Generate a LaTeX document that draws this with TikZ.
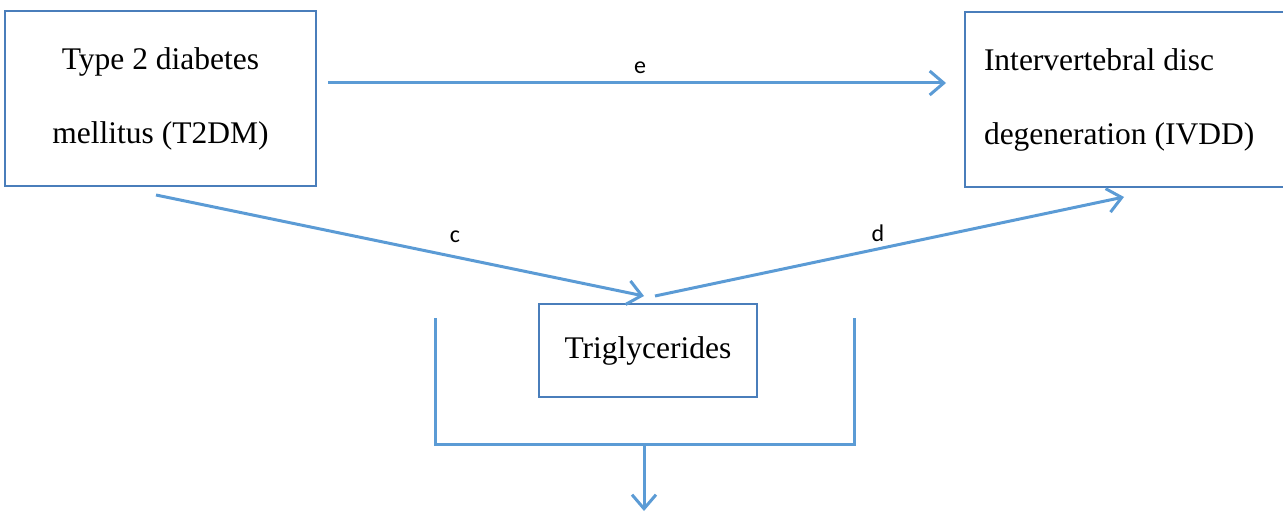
\documentclass[tikz,border=0pt]{standalone}
\usepackage{fontspec}
\setmainfont{Liberation Serif}
\newfontfamily\labelfont{Carlito}
\usetikzlibrary{arrows.meta}

\definecolor{boxblue}{RGB}{74,126,187}
\definecolor{linkblue}{RGB}{91,155,213}

\tikzset{
  box/.style={draw=boxblue, line width=2pt, rectangle, inner sep=0pt,
              font=\fontsize{31.5}{74}\selectfont},
  link/.style={draw=linkblue, line width=3pt,
               -{Straight Barb[length=14pt,width=24pt,line width=3pt]}},
  plain/.style={draw=linkblue, line width=3pt},
  pathlabel/.style={font=\labelfont\fontsize{24}{26}\selectfont, inner sep=0pt}
}

\begin{document}
\begin{tikzpicture}[x=1pt,y=-1pt]
  \useasboundingbox (0,0) rectangle (1283,513);
  \clip (0,0) rectangle (1283,513);

  % exposure, outcome and mediator boxes
  \node[box, minimum width=311pt, minimum height=175pt, align=center]
    (t2dm) at (160.5,98.5) {\raisebox{2pt}{\parbox{300pt}{\centering Type 2 diabetes\\mellitus (T2DM)}}};
  \node[box, anchor=north west, minimum height=175pt, text width=288pt,
        inner xsep=19pt, align=flush left]
    (ivdd) at (964,11) {Intervertebral disc\\degeneration (IVDD)};
  \node[box, minimum width=218pt, minimum height=93pt]
    (tg) at (648,350.5) {\raisebox{-2pt}{Triglycerides}};

  % arrow end points
  \coordinate (eStart) at (328,83);
  \coordinate (eEnd)   at (946,83);
  \coordinate (cStart) at (156,195);
  \coordinate (cEnd)   at (644,296);
  \coordinate (dStart) at (655,296);
  \coordinate (dEnd)   at (1124,197);

  % bracket below the mediator
  \coordinate (brL)  at (435,318);
  \coordinate (brLB) at (435,444);
  \coordinate (brRB) at (854,444);
  \coordinate (brR)  at (854,318);
  \coordinate (brM)  at (644,444);
  \coordinate (brOut) at (644,511);

  % paths
  \draw[link] (eStart) -- (eEnd);
  \draw[link] (cStart) -- (cEnd);
  \draw[link] (dStart) -- (dEnd);
  \draw[plain] (brL) -- (brLB) -- (brRB) -- (brR);
  \draw[link] (brM) -- (brOut);

  % path labels
  \node[pathlabel] (le) at (640,68) {e};
  \node[pathlabel] (lc) at (455,237) {c};
  \node[pathlabel] (ld) at (878,233) {d};
\end{tikzpicture}
\end{document}
